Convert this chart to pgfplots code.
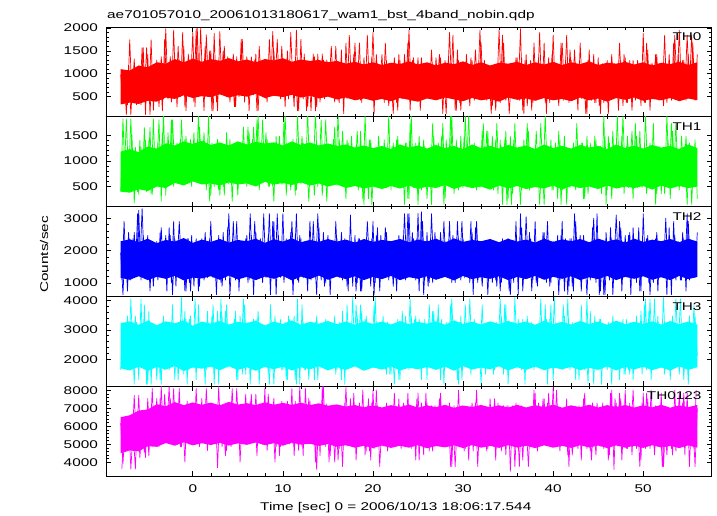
\documentclass[border=0pt]{standalone}
\usepackage{fontspec}
\setmainfont{Liberation Sans}[FakeStretch=1.37]
\usepackage{pgfplots}
\pgfplotsset{compat=1.18}
\usepackage{pgfplotstable}
\usepgfplotslibrary{fillbetween}
\definecolor{qred}{RGB}{255,0,0}
\definecolor{qgreen}{RGB}{0,255,0}
\definecolor{qblue}{RGB}{0,0,255}
\definecolor{qcyan}{RGB}{0,255,255}
\definecolor{qmag}{RGB}{255,0,255}

\pgfplotstableread{
t a b c d e
-8 980 400 1940 1640 6175
-7.75 360 1820 640 3260 3910
-7.5 980 540 2280 1830 6025
-7.25 320 1200 750 3470 4690
-7 1740 660 2370 2020 5790
-6.75 460 1500 1170 3040 4825
-6.5 1320 180 2560 1150 7725
-6.25 320 1060 1510 3260 5050
-6 1120 350 3250 1300 7725
-5.75 320 1270 1090 4050 4825
-5.5 1570 660 2470 1730 6490
-5.25 110 1400 1510 3260 4260
-5 1420 540 2470 1150 7545
-4.75 110 1650 750 3150 5150
-4.5 1120 350 2180 2260 8090
-4.25 460 1130 1320 3150 5010
-4 1300 810 2280 1300 7545
-3.75 280 1800 1395 2930 4870
-3.5 1370 210 2710 1150 8200
-3.25 450 1970 1320 3470 5440
-3 1980 330 2470 1830 7080
-2.75 450 1550 1240 3260 5150
-2.5 1370 690 2470 2020 7545
-2.25 590 1800 640 3850 5800
-2 1300 810 2370 1300 7080
-1.75 280 1350 1510 2930 5150
-1.5 1300 590 2900 2260 8090
-1.25 640 1800 1395 4100 4870
-1 1600 690 2180 1490 6775
-0.75 190 1480 750 3360 5800
-0.5 1430 640 2370 1640 7240
-0.25 760 1420 750 3470 5010
0 1900 690 2080 1730 7240
0.25 280 1210 1395 4050 5295
0.5 1990 740 2080 1920 6925
0.75 540 1660 900 3150 4870
1 1160 810 2370 1830 7545
1.25 190 1550 1090 3260 5150
1.5 1850 430 1940 1640 8090
1.75 690 1900 1320 2930 5440
2 1500 330 2900 2020 6775
2.25 190 1280 1170 3850 5295
2.5 1300 740 2080 1830 7080
2.75 190 1420 1510 3630 3700
3 1920 330 2180 1730 7080
3.25 590 1100 900 3470 4870
3.5 1600 330 1940 1830 6540
3.75 500 1550 1395 3850 4655
4 1160 550 3140 2020 6925
4.25 760 1210 1240 3150 4870
4.5 1430 640 2900 1920 6540
4.75 280 1280 1090 3630 5440
5 1230 330 2180 1300 7240
5.25 760 1280 1395 3470 4010
5.5 1750 640 2080 1490 6775
5.75 380 1100 1510 3850 5150
6 1370 500 2470 1920 6775
6.25 190 1550 1090 2930 5440
6.5 1370 590 2470 1640 7775
6.75 540 1660 640 3360 5295
7 1430 810 2560 2020 7775
7.25 190 1900 1170 3630 5440
7.5 1230 640 2370 2120 7240
7.75 590 1800 1015 3040 5010
8 1050 590 2180 2260 8090
8.25 380 1420 1320 2930 4655
8.5 1750 500 3140 1150 6540
8.75 690 1100 1170 2770 5800
9 1500 210 2900 1150 7545
9.25 540 1480 640 2930 4870
9.5 1050 550 2470 1830 6540
9.75 450 1100 1170 3360 4870
10 1230 550 3140 1640 7080
10.25 280 1900 1240 3260 5575
10.5 1500 690 1940 1300 7390
10.75 640 1280 1240 3360 5010
11 1050 640 2900 1640 8090
11.25 280 1210 1395 3470 4370
11.5 1950 430 3140 1150 6775
11.75 190 1280 1015 3040 4655
12 1750 550 2370 1920 7240
12.25 450 1350 1170 3260 4370
12.5 1230 550 2180 1640 8090
12.75 280 1970 750 2770 5575
13 1050 590 2900 1920 7390
13.25 590 1100 1395 3260 5440
13.5 1370 330 1940 1300 6540
13.75 280 1210 640 3470 3600
14 1230 690 2710 2120 6925
14.25 500 1800 1090 2770 5800
14.5 1300 590 2560 1830 8200
14.75 540 1800 1015 3360 4870
15 1230 740 2470 1830 6925
15.25 690 1210 640 3150 4370
15.5 1160 740 2280 2020 6925
15.75 380 1660 1240 3470 4010
16 970 520 2370 1640 6675
16.25 370 1410 1170 3260 4760
16.5 1520 740 2560 1300 6990
16.75 130 1210 1395 3040 5545
17 1670 260 2180 2120 8150
17.25 560 1350 750 3150 5325
17.5 1080 670 3100 1920 7525
17.75 460 1030 900 4100 5325
18 1670 620 2470 1920 7140
18.25 680 1580 1015 3470 5045
18.5 1670 740 2370 2260 7295
18.75 370 1140 750 3630 4900
19 1350 150 2180 2020 6830
19.25 610 1280 1240 3470 4620
19.5 1220 260 2280 2260 7525
19.75 560 1410 900 3040 4120
20 1900 620 2900 1830 8000
20.25 560 1140 1015 4100 5185
20.5 1220 670 2710 2120 7140
20.75 680 1030 750 3260 3760
21 1420 480 2280 2120 6290
21.25 370 1410 1395 3040 5045
21.5 1290 480 2560 1490 7295
21.75 300 1900 1090 3150 5545
22 970 430 2180 1490 6290
22.25 130 1350 900 3040 5325
22.5 1220 520 2080 1830 6525
22.75 200 1480 1320 3360 5045
23 1290 620 1940 1300 6830
23.25 460 1210 1395 3630 5545
23.5 1420 150 3140 2260 7140
23.75 680 1350 1510 2770 5045
24 1950 260 3140 1640 6290
24.25 420 1900 1395 3470 4760
24.5 1350 480 2370 2260 6990
24.75 680 1350 1090 3470 4120
25 1350 150 3150 1920 7840
25.25 200 1280 1170 2930 5185
25.5 1150 740 2900 1730 6290
25.75 560 1280 1090 3360 4900
26 1220 260 2560 1300 7295
26.25 610 1140 1015 3850 4620
26.5 1520 150 3140 2120 7140
26.75 560 1480 1320 3630 5185
27 1350 520 2280 1830 6525
27.25 510 1350 1170 3850 5045
27.5 1350 620 2560 1300 7840
27.75 130 1730 1510 2930 4900
28 1290 260 2280 1730 6525
28.25 680 1140 1170 3040 4900
28.5 1900 740 2900 2260 7295
28.75 610 1900 1015 4050 3760
29 1150 360 2080 2020 7140
29.25 200 1410 1510 2770 5325
29.5 1290 430 2370 1150 8000
29.75 200 1480 1090 3470 4900
30 1080 480 2370 2020 6525
30.25 610 1900 1240 3850 4760
30.5 1080 570 2180 2020 6525
30.75 300 1280 1015 4050 5325
31 1290 520 2560 2020 7295
31.25 420 1350 1170 3360 5545
31.5 970 430 2900 1830 8000
31.75 560 1140 1320 2770 4900
32 1670 620 2080 1150 6830
32.25 460 1730 1240 2930 5045
32.5 1080 520 2280 1490 6290
32.75 680 1580 640 2930 4760
33 1150 480 2280 1730 7525
33.25 300 1480 1015 3150 5185
33.5 970 520 1940 1640 7525
33.75 610 1730 900 3260 5545
34 1950 620 2180 1920 6830
34.25 510 1280 1015 3470 4620
34.5 1670 570 1940 1490 7140
34.75 420 1580 1320 3850 4405
35 1150 260 2370 1150 7140
35.25 610 1480 640 3040 3500
35.5 1080 360 2080 1730 7140
35.75 680 1730 1170 4100 3760
36 1350 570 2080 2260 6525
36.25 420 1140 1320 3150 3760
36.5 1350 430 2710 1640 7140
36.75 130 1410 1240 2770 5045
37 1420 620 3050 2260 6290
37.25 460 1580 1320 2930 3760
37.5 1290 670 2370 2120 6675
37.75 370 1210 1090 3150 5325
38 1150 740 2900 1920 7840
38.25 560 1140 900 2770 4620
38.5 1900 150 1940 1730 6525
38.75 460 1030 1510 3150 5325
39 1670 150 2560 2260 7525
39.25 130 1140 1015 3360 5045
39.5 1350 520 1940 1830 7840
39.75 460 1410 1015 3850 5325
40 1840 430 2280 1300 8150
40.25 510 1350 1395 3040 5045
40.5 970 260 2470 2260 6675
40.75 510 1410 1090 3260 4620
41 1670 430 2900 1640 6525
41.25 610 1480 750 3470 5325
41.5 1840 150 2080 1730 7525
41.75 370 1210 900 3040 3760
42 1290 570 2370 2120 6830
42.25 460 1350 750 3150 5325
42.5 1150 430 2900 1300 6290
42.75 200 1030 1395 3260 4760
43 1670 570 2470 2120 6525
43.25 610 1350 1320 3260 5325
43.5 970 260 1940 1640 7840
43.75 130 1480 640 4050 4760
44 1520 670 2180 1730 6990
44.25 420 1030 1510 2930 4120
44.5 1420 520 3000 1150 6290
44.75 370 1410 1015 3260 4405
45 1350 520 2180 2120 6990
45.25 130 1280 750 3360 4900
45.5 1220 620 2180 2120 7295
45.75 510 1480 640 2930 5185
46 1290 430 2180 1640 6830
46.25 460 1350 1090 2770 4405
46.5 1420 260 2370 1150 8000
46.75 610 1210 1510 3260 3600
47 1150 670 3100 1920 7295
47.25 200 1280 1395 3150 5185
47.5 1290 570 2710 2260 7525
47.75 300 1900 1395 3360 4900
48 1350 570 2470 1490 8000
48.25 370 1480 1240 3040 4760
48.5 1290 740 2560 1490 7295
48.75 200 1580 1170 2770 4405
49 1150 620 2280 1920 6830
49.25 510 1480 1015 3470 4760
49.5 1220 740 2710 1730 6525
49.75 300 1210 750 3630 4120
50 1880 520 3140 1730 7840
50.25 370 1900 1320 4050 4760
50.5 1520 670 2470 1730 7525
50.75 200 1350 640 4050 4760
51 1220 670 1940 2120 6675
51.25 610 1210 1240 4050 4405
51.5 1420 360 2560 1730 6675
51.75 420 1280 1510 3150 4900
52 1150 360 1940 2260 7840
52.25 300 1210 1395 4100 3760
52.5 1080 520 3000 2020 6525
52.75 560 1410 1240 2930 5185
53 970 260 2280 1300 6675
53.25 610 1580 1510 3470 4405
53.5 1840 740 2470 2120 8000
53.75 680 1030 1240 2930 5045
54 1950 430 1940 1490 7840
54.25 610 1480 1090 3150 5325
54.5 1290 740 2370 1300 7840
54.75 420 1480 750 2930 5045
55 1420 570 2900 1150 6290
55.25 460 1140 1320 3150 5325
55.5 1670 480 1940 2020 6525
55.75 420 1410 1170 3470 3760
56 1420 260 2560 2120 6990
}\lcdata

\pgfplotstableread{
t a b c d e
-7.875 460 950 1090 2930 3620
-7.625 980 590 2900 1830 6175
-7.375 110 1820 1170 2930 4825
-7.125 1190 660 2560 1730 6490
-6.875 110 1820 1090 4050 3620
-6.625 980 590 2370 2020 5790
-6.375 510 1270 1395 3470 3620
-6.125 870 400 3140 1730 6795
-5.875 410 1400 1510 3150 4260
-5.625 1570 440 3300 1730 6025
-5.375 510 1650 1395 3850 4545
-5.125 1570 400 1940 1150 6175
-4.875 410 1400 1320 3630 4370
-4.625 1740 350 2080 1150 6925
-4.375 200 1820 900 3150 5295
-4.125 1050 540 2180 2020 6540
-3.875 640 1350 1090 3150 4870
-3.625 1160 590 2560 1300 7545
-3.375 190 1550 1395 3260 5150
-3.125 1750 810 2280 1640 7775
-2.875 540 1350 750 3040 5800
-2.625 1230 590 2710 1640 8200
-2.375 380 1800 1015 3260 5295
-2.125 1950 500 2900 1920 8090
-1.875 500 1210 900 3150 5150
-1.625 1600 810 2280 1300 7240
-1.375 500 1420 1240 3150 4870
-1.125 1900 550 2180 2020 6540
-0.875 280 1420 750 3630 4010
-0.625 1160 640 2370 1150 7390
-0.375 500 1280 1015 3360 5010
-0.125 1300 500 2470 2260 6540
0.125 380 1550 900 3040 5010
0.375 1980 590 2370 1300 8090
0.625 500 1900 750 3850 5440
0.875 2000 690 2180 1830 6925
1.125 540 1210 1395 2930 5295
1.375 1600 640 2560 1150 6775
1.625 640 1350 1170 3630 4655
1.875 1500 210 2370 2120 6925
2.125 190 1350 1240 3470 5010
2.375 1880 500 2280 1150 7080
2.625 380 1100 640 3150 5010
2.875 1300 430 2470 1150 8200
3.125 640 1280 1015 4050 5150
3.375 1500 500 2560 1920 6540
3.625 540 1100 1090 3630 4370
3.875 1370 690 2710 1730 6775
4.125 380 1420 640 2930 5440
4.375 1050 210 1940 2260 8090
4.625 280 1210 1395 3360 5150
4.875 1370 590 2900 1300 8090
5.125 500 1210 750 3040 5575
5.375 1750 690 2180 2260 6775
5.625 690 1660 1170 4050 5575
5.875 1160 640 2370 1490 7775
6.125 500 1660 1015 3260 5150
6.375 1050 690 3140 1150 7390
6.625 690 1420 1395 3260 5800
6.875 1300 550 2900 1830 6925
7.125 190 1800 1240 3360 4370
7.375 1600 430 1940 1150 7240
7.625 690 1100 1240 3040 5575
7.875 1160 810 3140 1920 6540
8.125 450 1550 1170 2770 5440
8.375 1230 500 2470 1490 7775
8.625 590 1100 640 3850 5800
8.875 1920 500 2900 2120 6775
9.125 690 1350 1170 3470 4010
9.375 1750 740 3140 1830 7080
9.625 590 1480 1320 2770 4370
9.875 1600 550 2180 1640 7390
10.125 690 1800 1015 3040 5440
10.375 1160 330 2370 1300 6775
10.625 450 1210 1170 3470 5575
10.875 1900 430 2560 2020 6540
11.125 690 1420 640 2770 5010
11.375 1230 330 2470 1300 7390
11.625 190 1900 1090 4050 5010
11.875 1050 740 2470 1150 8200
12.125 590 1480 1510 3850 4870
12.375 1430 690 2080 1640 7240
12.625 190 1100 1395 3040 5150
12.875 1160 210 2180 1300 7545
13.125 190 1280 1090 2770 5440
13.375 1430 810 2900 1920 6925
13.625 190 1970 1240 3260 4010
13.875 1430 500 3140 1300 7240
14.125 380 1280 1395 3040 4370
14.375 1430 330 1940 1730 8200
14.625 450 1280 900 3150 5010
14.875 1300 210 2180 1830 7240
15.125 760 1280 1510 3040 4010
15.375 1600 550 2080 2120 7080
15.625 640 1420 1170 2930 5800
15.875 1600 810 2900 1490 7080
16.125 420 1900 1320 2770 4120
16.375 970 670 1940 1640 6525
16.625 510 1580 1090 3630 3760
16.875 1220 670 2370 1150 7295
17.125 460 1410 900 3850 4900
17.375 1840 570 2080 2020 6990
17.625 680 1480 1395 2930 5185
17.875 1420 520 2080 1830 7840
18.125 610 1280 750 3850 4120
18.375 1080 430 2370 2260 6525
18.625 420 1580 750 3850 5545
18.875 1080 260 2180 1640 8000
19.125 460 1900 1395 3360 4405
19.375 1840 620 2900 2120 7140
19.625 610 1410 1510 3150 4620
19.875 1350 150 2370 2020 7295
20.125 130 1030 640 3850 4760
20.375 1420 570 2470 2020 8000
20.625 460 1480 1240 3150 5045
20.875 1080 740 2470 2260 6830
21.125 460 1030 1320 3470 4900
21.375 1670 670 2710 1640 6990
21.625 510 1140 1395 3260 4620
21.875 1080 570 2280 1490 6525
22.125 560 1280 1320 2770 5185
22.375 1350 740 2180 1150 7840
22.625 370 1410 750 3150 4900
22.875 1420 570 2470 1300 7525
23.125 460 1030 1510 3260 4760
23.375 970 480 2470 1830 7295
23.625 560 1350 1090 3470 4900
23.875 1670 260 3140 2260 7840
24.125 200 1730 1510 4050 5185
24.375 1290 620 2560 1730 6830
24.625 420 1030 1170 3360 5045
24.875 970 520 2370 2260 7525
25.125 510 1480 750 3360 4120
25.375 1350 430 3200 1300 7295
25.625 680 1410 640 3040 4405
25.875 1220 620 1940 2020 7840
26.125 510 1140 900 3150 5045
26.375 1080 570 2370 2120 6525
26.625 610 1730 1015 3630 4620
26.875 970 520 2560 2020 7140
27.125 680 1140 1510 3360 5185
27.375 1420 520 2280 1920 7525
27.625 510 1480 1320 3360 5325
27.875 970 150 2900 1150 6675
28.125 130 1410 1320 3260 5545
28.375 1350 670 2280 2260 6525
28.625 560 1900 1395 3850 3760
28.875 1840 520 2470 2120 6290
29.125 200 1140 1015 3040 3760
29.375 1520 480 2900 1300 6525
29.625 370 1140 1510 3260 4900
29.875 1220 670 2900 1300 7140
30.125 460 1480 1170 2930 4620
30.375 1420 740 2080 2120 6990
30.625 510 1900 1320 2930 4120
30.875 1350 520 2900 1490 7140
31.125 610 1280 640 3260 4620
31.375 1520 570 2710 1730 7295
31.625 610 1030 1015 2770 3760
31.875 1950 480 1940 2020 6675
32.125 680 1580 900 3850 5045
32.375 1290 620 2080 1830 6990
32.625 420 1580 1395 2930 4620
32.875 1150 740 2180 2260 6290
33.125 130 1280 1170 3040 5045
33.375 1150 430 2280 1490 6990
33.625 200 1410 1090 2770 4120
33.875 1150 360 2180 2120 7295
34.125 370 1410 750 4050 5325
34.375 1840 150 2370 1920 6290
34.625 680 1410 1240 3850 4900
34.875 1150 150 1940 1730 7140
35.125 130 1140 750 3040 4900
35.375 970 150 2180 2120 6830
35.625 560 1410 1015 2930 5185
35.875 1350 570 2900 2260 7295
36.125 610 1030 640 3360 4620
36.375 1980 150 3140 1730 6990
36.625 200 1210 750 3360 4120
36.875 1290 670 1940 1150 6675
37.125 300 1730 1320 3470 5325
37.375 1080 430 2560 1830 6830
37.625 200 1140 750 3260 5045
37.875 1670 670 2180 1640 8000
38.125 420 1580 1015 3040 5045
38.375 1350 570 1940 2020 7295
38.625 610 1730 1170 4050 5545
38.875 1220 670 2560 1830 7525
39.125 370 1900 1395 3850 5185
39.375 970 570 2900 1150 7295
39.625 370 1210 900 3360 5545
39.875 1420 430 1940 1830 6675
40.125 680 1140 1240 4100 4900
40.375 970 670 2180 1920 8000
40.625 300 1580 640 2770 5325
40.875 1670 150 2470 1920 6990
41.125 420 1280 1170 3850 5325
41.375 1290 670 2370 2120 6675
41.625 560 1030 640 4050 4405
41.875 1520 480 2370 1640 6830
42.125 510 1140 900 3260 4405
42.375 1520 670 3140 1830 6675
42.625 560 1730 1510 3040 4900
42.875 1080 480 2180 1300 7140
43.125 460 1350 750 3850 4120
43.375 1080 260 2470 2120 7525
43.625 130 1030 1510 2770 5545
43.875 1290 360 2080 1150 6290
44.125 560 1350 1090 3630 4620
44.375 970 520 2710 1730 7295
44.625 370 1480 1240 3470 5545
44.875 1150 620 3140 1640 7295
45.125 300 1280 640 3360 5045
45.375 970 360 2280 1150 6525
45.625 370 1900 640 3150 4760
45.875 1220 150 2560 1920 7140
46.125 130 1480 1395 3260 4120
46.375 1220 620 2710 1830 7840
46.625 510 1580 640 3470 5325
46.875 1080 520 2080 2120 7525
47.125 560 1900 1170 3040 4900
47.375 1670 480 2900 1300 7840
47.625 460 1480 750 3260 4120
47.875 1420 360 2180 1490 6525
48.125 370 1280 1510 3360 4760
48.375 1150 480 2470 1640 6675
48.625 510 1140 640 3260 5545
48.875 1290 260 2710 1300 8000
49.125 420 1730 1320 3040 5185
49.375 1290 480 2280 1920 6290
49.625 680 1580 750 3150 3760
49.875 1080 480 2280 1490 7295
50.125 370 1210 1240 3850 5185
50.375 1670 360 2370 1640 7840
50.625 460 1210 1015 3630 5185
50.875 1220 520 2180 1300 8000
51.125 680 1730 1015 3150 5185
51.375 1420 150 2370 2120 7140
51.625 460 1140 750 3470 4900
51.875 1220 620 2280 1730 6290
52.125 560 1210 1320 3040 3760
52.375 1840 360 2280 1490 6525
52.625 370 1900 640 2930 4405
52.875 1420 570 2710 2020 6525
53.125 420 1730 640 2770 4760
53.375 1670 670 2900 2120 6830
53.625 460 1730 1090 4050 4620
53.875 1420 570 2280 2260 6990
54.125 420 1030 1090 4050 5045
54.375 1290 670 2560 2120 7295
54.625 610 1140 1320 3260 4405
54.875 1840 150 3140 1730 7840
55.125 680 1350 1090 3470 3760
55.375 1840 150 2080 1830 6675
55.625 610 1140 1170 3850 4760
55.875 970 620 2080 1730 8000
}\lcdatab

\pgfplotstableread{
t alo ahi blo bhi clo chi dlo dhi elo ehi
-8 330 1100 400 1180 1160 2290 1690 3220 4500 6500
-7 370 1070 380 1230 1100 2350 1620 3290 4660 6610
-6 340 1180 450 1170 1210 2260 1750 3170 4610 6870
-5 410 1140 410 1280 1090 2370 1600 3310 4890 6930
-4 390 1250 500 1240 1190 2230 1740 3160 4860 7220
-3 480 1220 470 1340 1130 2330 1650 3290 5070 7110
-2 450 1320 570 1300 1220 2280 1770 3220 4920 7340
-1 530 1250 520 1380 1080 2390 1600 3320 5110 7170
0 470 1330 600 1330 1170 2240 1720 3140 4940 7320
1 510 1260 540 1390 1140 2340 1680 3280 5060 7190
2 490 1320 560 1310 1210 2270 1750 3210 4960 7310
3 550 1280 520 1360 1100 2360 1630 3300 5080 7160
4 480 1340 580 1300 1230 2250 1760 3180 4930 7350
5 530 1270 540 1380 1110 2330 1640 3270 5050 7200
6 500 1310 560 1320 1190 2290 1730 3230 4970 7280
7 560 1250 500 1370 1090 2370 1610 3310 5100 7170
8 470 1320 590 1340 1200 2240 1740 3150 4950 7330
9 520 1290 540 1360 1130 2350 1660 3280 5060 7190
10 490 1340 570 1300 1220 2280 1750 3200 4920 7300
11 540 1260 530 1380 1080 2380 1620 3320 5090 7180
12 480 1310 580 1310 1200 2260 1730 3170 4980 7310
13 520 1280 520 1360 1120 2330 1660 3270 5030 7170
14 460 1300 560 1300 1230 2270 1760 3210 4910 7270
15 500 1250 500 1340 1100 2360 1620 3300 5010 7140
16 440 1280 540 1290 1200 2280 1730 3190 4860 7210
17 480 1220 470 1320 1120 2340 1640 3280 4950 7090
18 420 1260 510 1260 1210 2250 1760 3170 4810 7180
19 460 1200 460 1300 1090 2360 1610 3290 4920 7050
20 410 1250 500 1250 1190 2270 1720 3200 4790 7160
21 450 1190 450 1290 1120 2330 1650 3280 4930 7040
22 400 1240 510 1230 1220 2290 1760 3180 4800 7170
23 470 1210 460 1320 1090 2360 1620 3300 4920 7070
24 430 1270 520 1260 1180 2260 1710 3190 4810 7200
25 390 1200 450 1300 1130 2340 1660 3270 4950 7030
26 460 1250 500 1240 1210 2280 1740 3210 4780 7160
27 420 1180 470 1310 1100 2370 1640 3290 4900 7060
28 480 1240 530 1250 1190 2250 1750 3170 4830 7190
29 440 1210 450 1290 1080 2380 1610 3320 4940 7020
30 400 1270 510 1230 1220 2270 1770 3200 4790 7150
31 470 1190 470 1320 1120 2330 1650 3270 4960 7070
32 420 1250 500 1250 1180 2290 1720 3180 4810 7180
33 450 1180 440 1290 1130 2360 1660 3290 4910 7050
34 390 1240 520 1240 1210 2260 1760 3190 4800 7160
35 480 1220 460 1310 1090 2370 1620 3300 4950 7040
36 430 1260 510 1260 1190 2280 1730 3210 4820 7190
37 460 1190 450 1300 1120 2340 1640 3280 4920 7040
38 410 1250 490 1230 1220 2250 1750 3170 4790 7170
39 470 1200 460 1320 1100 2370 1630 3310 4940 7060
40 420 1260 520 1250 1190 2270 1720 3190 4810 7200
41 450 1190 440 1290 1130 2350 1660 3270 4910 7030
42 400 1250 510 1240 1210 2290 1740 3180 4800 7160
43 480 1210 470 1310 1090 2360 1630 3300 4950 7060
44 420 1270 500 1260 1180 2260 1710 3200 4820 7190
45 460 1190 450 1290 1120 2370 1640 3280 4930 7040
46 390 1240 520 1230 1220 2280 1760 3170 4790 7170
47 470 1220 460 1320 1090 2350 1620 3310 4940 7070
48 430 1260 500 1250 1190 2250 1740 3190 4810 7180
49 480 1200 470 1300 1130 2370 1650 3270 4920 7040
50 410 1250 510 1240 1210 2270 1750 3200 4800 7160
51 450 1180 440 1310 1100 2340 1630 3290 4950 7050
52 420 1240 520 1260 1180 2290 1720 3180 4820 7190
53 470 1210 460 1290 1090 2360 1620 3300 4910 7030
54 400 1260 510 1230 1220 2260 1760 3190 4790 7160
55 460 1190 470 1320 1120 2370 1640 3280 4940 7060
56 420 1250 500 1250 1190 2280 1730 3180 4810 7180
}\banddata

\newcommand\fs{\fontsize{11.2}{13}\selectfont}
\pgfplotsset{
  panel/.style={
    scale only axis, width=605.4pt, height=89.8pt,
    anchor=south west, xmin=-9.6, xmax=57.6,
    axis line style={line width=0.8pt},
    tick align=inside,
    xtick={0,10,20,30,40,50}, minor x tick num=4,
    minor y tick num=4,
    major tick length=5pt, minor tick length=2.7pt,
    every tick/.style={black, line width=0.6pt},
    tick label style={font=\fs},
    /pgf/number format/assume math mode=true,
    /pgf/number format/1000 sep={},
    yticklabel style={xshift=-4.9pt},
    xticklabel style={yshift=-4.8pt},
  },
  zz/.style={mark=none, line width=0.7pt, line join=round},
}
\tikzset{lab/.style={anchor=base east, inner sep=0pt, font=\fs}}

\begin{document}
\begin{tikzpicture}

\begin{axis}[panel, at={(106.3pt,399.2pt)}, ymin=60, ymax=2020, ytick={500,1000,1500,2000}, xticklabels={}]
\addplot[name path=aL, draw=none] table[x=t,y=alo]{\banddata};
\addplot[name path=aH, draw=none] table[x=t,y=ahi]{\banddata};
\addplot[fill=qred, draw=none] fill between[of=aL and aH];
\addplot[qred, zz] table[x=t,y=a]{\lcdata};
\addplot[qred, zz] table[x=t,y=a]{\lcdatab};
\node[lab] at (rel axis cs:0.9835,0.847) {TH0};
\end{axis}

\begin{axis}[panel, at={(106.3pt,309.4pt)}, ymin=108, ymax=1860, ytick={500,1000,1500}, xticklabels={}]
\addplot[name path=bL, draw=none] table[x=t,y=blo]{\banddata};
\addplot[name path=bH, draw=none] table[x=t,y=bhi]{\banddata};
\addplot[fill=qgreen, draw=none] fill between[of=bL and bH];
\addplot[qgreen, zz] table[x=t,y=b]{\lcdata};
\addplot[qgreen, zz] table[x=t,y=b]{\lcdatab};
\node[lab] at (rel axis cs:0.9835,0.847) {TH1};
\end{axis}

\begin{axis}[panel, at={(106.3pt,219.6pt)}, ymin=587, ymax=3360, ytick={1000,2000,3000}, xticklabels={}]
\addplot[name path=cL, draw=none] table[x=t,y=clo]{\banddata};
\addplot[name path=cH, draw=none] table[x=t,y=chi]{\banddata};
\addplot[fill=qblue, draw=none] fill between[of=cL and cH];
\addplot[qblue, zz] table[x=t,y=c]{\lcdata};
\addplot[qblue, zz] table[x=t,y=c]{\lcdatab};
\node[lab] at (rel axis cs:0.9835,0.847) {TH2};
\end{axis}

\begin{axis}[panel, at={(106.3pt,129.8pt)}, ymin=1085, ymax=4136, ytick={2000,3000,4000}, xticklabels={}]
\addplot[name path=dL, draw=none] table[x=t,y=dlo]{\banddata};
\addplot[name path=dH, draw=none] table[x=t,y=dhi]{\banddata};
\addplot[fill=qcyan, draw=none] fill between[of=dL and dH];
\addplot[qcyan, zz] table[x=t,y=d]{\lcdata};
\addplot[qcyan, zz] table[x=t,y=d]{\lcdatab};
\node[lab] at (rel axis cs:0.9835,0.847) {TH3};
\end{axis}

\begin{axis}[panel, at={(106.3pt,40pt)}, ymin=3240, ymax=8222, ytick={4000,5000,6000,7000,8000}]
\addplot[name path=eL, draw=none] table[x=t,y=elo]{\banddata};
\addplot[name path=eH, draw=none] table[x=t,y=ehi]{\banddata};
\addplot[fill=qmag, draw=none] fill between[of=eL and eH];
\addplot[qmag, zz] table[x=t,y=e]{\lcdata};
\addplot[qmag, zz] table[x=t,y=e]{\lcdatab};
\node[lab] at (rel axis cs:0.9835,0.847) {TH0123};
\end{axis}

\node[anchor=base west, inner sep=0pt, font=\fs] at (107pt,497.7pt) {ae701057010\_20061013180617\_wam1\_bst\_4band\_nobin.qdp};
\node[anchor=base west, inner sep=0pt, font=\fs] at (260pt,5.5pt) {Time [sec] 0 = 2006/10/13 18:06:17.544};
\node[rotate=90, anchor=base west, inner sep=0pt, font=\fs] at (48pt,223pt) {Counts/sec};

\pgfresetboundingbox
\useasboundingbox (0,0) rectangle (717pt,516pt);
\end{tikzpicture}
\end{document}
